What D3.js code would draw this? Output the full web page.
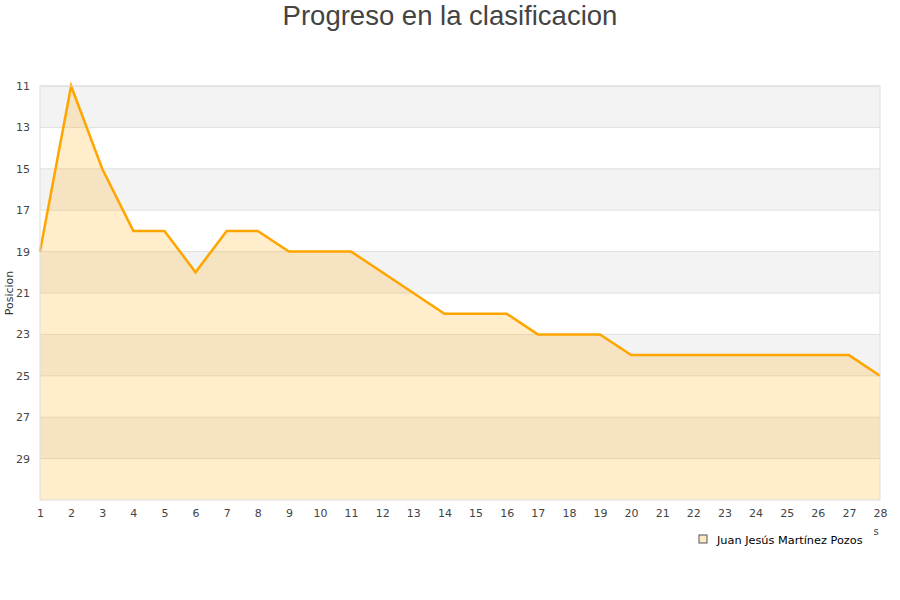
<!DOCTYPE html>
<html>
<head>
<meta charset="utf-8">
<script src="https://cdn.jsdelivr.net/npm/d3@7"></script>
<style>
  body { margin: 0; background: #fff; }
  .tick text { font-family: "DejaVu Sans", sans-serif; font-size: 11px; fill: #444; }
</style>
</head>
<body>
<div id="chart"></div>
<script>
// jornadas y posicion del jugador
const jornadas = [1, 2, 3, 4, 5, 6, 7, 8, 9, 10, 11, 12, 13, 14, 15, 16, 17, 18, 19, 20, 21, 22, 23, 24, 25, 26, 27, 28];
const posiciones = [19, 11, 15, 18, 18, 20, 18, 18, 19, 19, 19, 20, 21, 22, 22, 22, 23, 23, 23, 24, 24, 24, 24, 24, 24, 24, 24, 25];
const yTicks = [11, 13, 15, 17, 19, 21, 23, 25, 27, 29];
const jugador = "Juan Jesús Martínez Pozos";

const width = 900, height = 600;
const margin = { top: 86, right: 20, bottom: 100, left: 40 };
const plotW = width - margin.left - margin.right;
const plotH = height - margin.top - margin.bottom;

const svg = d3.select("#chart")
    .append("svg")
    .attr("width", width)
    .attr("height", height);

svg.append("text")
    .attr("x", width / 2)
    .attr("y", 25)
    .attr("text-anchor", "middle")
    .style("font-family", "'Liberation Sans', Arial, sans-serif")
    .style("font-size", "27.5px")
    .style("fill", "#444")
    .text("Progreso en la clasificacion");

const g = svg.append("g")
    .attr("transform", `translate(${margin.left},${margin.top})`);

const x = d3.scaleLinear()
    .domain([1, 28])
    .range([0, plotW]);

const y = d3.scaleLinear()
    .domain([11, 31])
    .range([0, plotH]);

// bandas alternas
const bands = d3.range(11, 31, 2);
g.selectAll("rect.band")
    .data(bands)
    .enter()
    .append("rect")
    .attr("class", "band")
    .attr("x", 0)
    .attr("y", d => y(d))
    .attr("width", plotW)
    .attr("height", d => y(d + 2) - y(d))
    .style("fill", (d, i) => i % 2 === 0 ? "#f3f3f3" : "#ffffff");

// lineas de rejilla
g.selectAll("line.grid")
    .data(yTicks)
    .enter()
    .append("line")
    .attr("x1", 0)
    .attr("x2", plotW)
    .attr("y1", d => y(d))
    .attr("y2", d => y(d))
    .style("stroke", "#e0e0e0")
    .style("stroke-width", 1);

const data = jornadas.map((j, i) => ({ j: j, p: posiciones[i] }));

const area = d3.area()
    .x(d => x(d.j))
    .y0(plotH)
    .y1(d => y(d.p));

g.append("path")
    .datum(data)
    .attr("d", area)
    .style("fill", "#ffa500")
    .style("fill-opacity", 0.2);

const line = d3.line()
    .x(d => x(d.j))
    .y(d => y(d.p));

g.append("path")
    .datum(data)
    .attr("d", line)
    .style("fill", "none")
    .style("stroke", "#ffa500")
    .style("stroke-width", 2.5)
    .style("stroke-linejoin", "miter");

// borde
g.append("rect")
    .attr("x", 0)
    .attr("y", 0)
    .attr("width", plotW)
    .attr("height", plotH)
    .style("fill", "none")
    .style("stroke", "#dddddd");

const yAxis = g.append("g")
    .call(d3.axisLeft(y).tickValues(yTicks).tickSize(0).tickPadding(10));
yAxis.select(".domain").remove();

const xAxis = g.append("g")
    .attr("transform", `translate(0,${plotH})`)
    .call(d3.axisBottom(x).tickValues(jornadas).tickFormat(d3.format("d")).tickSize(0).tickPadding(9));
xAxis.select(".domain").remove();

svg.append("text")
    .attr("transform", `translate(13,${margin.top + plotH / 2}) rotate(-90)`)
    .attr("text-anchor", "middle")
    .style("font-family", "'DejaVu Sans', sans-serif")
    .style("font-size", "11px")
    .style("fill", "#333")
    .text("Posicion");

// titulo del eje x recortado
svg.append("text")
    .attr("x", 876)
    .attr("y", 535)
    .attr("text-anchor", "middle")
    .style("font-family", "'DejaVu Sans', sans-serif")
    .style("font-size", "10px")
    .style("fill", "#444")
    .text("s");

// leyenda
const legend = svg.append("g")
    .attr("transform", "translate(699,535)");
legend.append("rect")
    .attr("width", 8)
    .attr("height", 8)
    .style("fill", "#ffe9c2")
    .style("stroke", "#555")
    .style("stroke-width", 1);
legend.append("text")
    .attr("x", 18)
    .attr("y", 8.5)
    .style("font-family", "'DejaVu Sans', sans-serif")
    .style("font-size", "11.3px")
    .style("fill", "#000")
    .text(jugador);
</script>
</body>
</html>
